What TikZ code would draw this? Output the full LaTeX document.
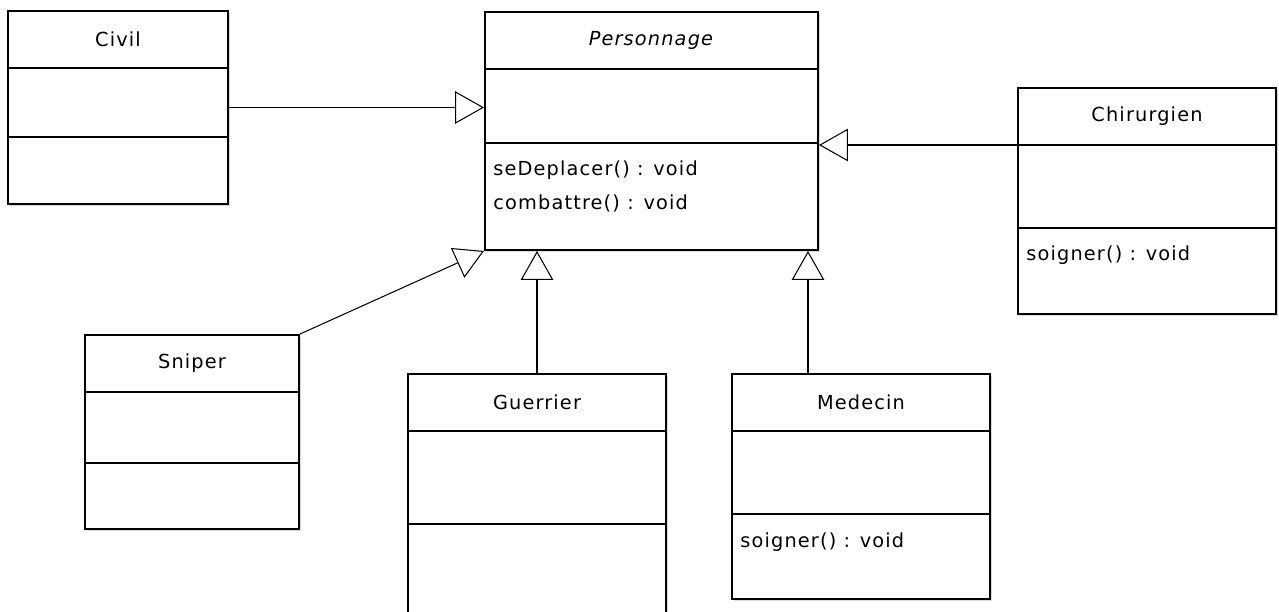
\documentclass[tikz,border=0pt]{standalone}
\usepackage{fontspec}
\setmainfont{DejaVu Sans}[LetterSpace=6]
\usetikzlibrary{arrows.meta,fit,shadows}

\tikzset{
  classbox/.style={draw, line width=1.1pt, fill=white, inner sep=0pt,
    drop shadow={shadow xshift=1.2pt, shadow yshift=-1.2pt, fill=black!25, opacity=.6}},
  divider/.style={line width=1.1pt},
  classname/.style={font=\fontsize{11}{13}\selectfont},
  member/.style={font=\fontsize{11}{13}\selectfont, anchor=west, inner sep=0pt},
  inherit/.style={line width=.6pt, -{Triangle[open, length=16.5pt, width=18.5pt]}}
}

% name, left, top, right, bottom, first divider, second divider, title
\newcommand{\umlclass}[8]{%
  \node[classbox, fit={(#2,#3) (#4,#5)}] (#1) {};
  \draw[divider] (#2,#6) coordinate (#1-d1) -- (#4,#6);
  \draw[divider] (#2,#7) coordinate (#1-d2) -- (#4,#7);
  \node[classname] (#1-name) at ({(#2+#4)/2},{(#3+#6)/2}) {#8};
}

\begin{document}
\begin{tikzpicture}[x=0.02cm, y=-0.02cm]
  \useasboundingbox (0,0) rectangle (1279,612);

  % classes
  \umlclass{civil}{8}{11}{228}{204}{68}{137}{Civil}
  \umlclass{pers}{485}{12}{818}{250}{69}{143}{\textit{Personnage}}
  \umlclass{chir}{1018}{88}{1276}{314}{145}{228}{Chirurgien}
  \umlclass{sniper}{85}{335}{299}{529}{392}{463}{Sniper}
  \umlclass{guer}{408}{374}{666}{630}{431}{524}{Guerrier}
  \umlclass{med}{732}{374}{990}{599}{431}{514}{Medecin}

  % operations
  \node[member] (pers-m1) at (493,170) {seDeplacer() : void};
  \node[member] (pers-m2) at (493,203) {combattre() : void};
  \node[member] (chir-m1) at (1026,255) {soigner() : void};
  \node[member] (med-m1) at (740,542) {soigner() : void};

  % generalisations
  \draw[inherit] (civil.east) -- (pers.west |- civil.east);
  \draw[inherit] (chir-d1) -- (pers.east |- chir-d1);
  \draw[inherit] (sniper.north east) -- (pers.south west);
  \draw[inherit] (guer.north) -- (guer.north |- pers.south);
  \coordinate (med-link) at (808,374);
  \draw[inherit] (med-link) -- (med-link |- pers.south);
\end{tikzpicture}
\end{document}
